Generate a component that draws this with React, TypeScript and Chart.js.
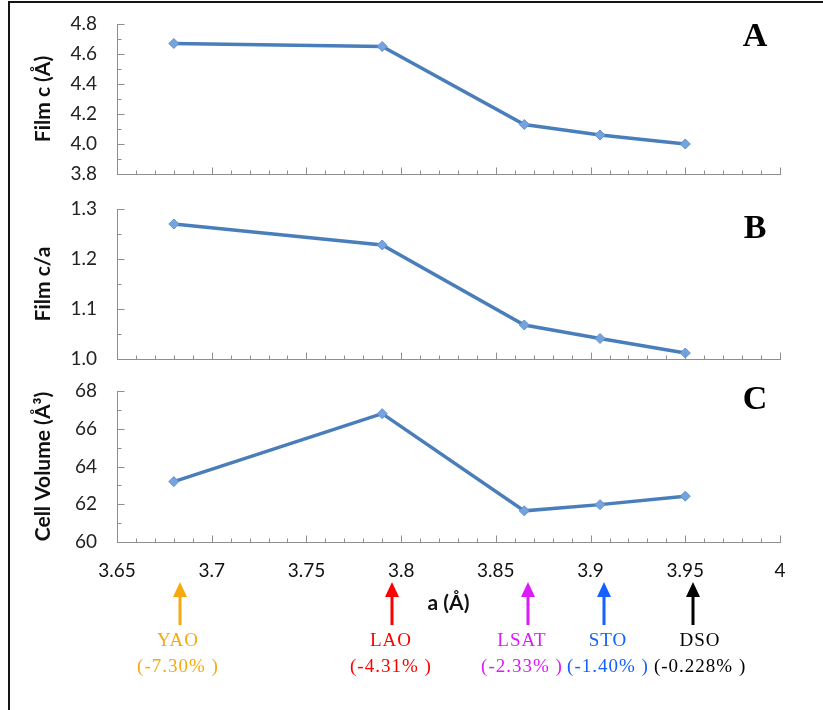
import { useEffect, useRef } from 'react';
import { Chart, registerables } from 'chart.js';

Chart.register(...registerables);

// Film lattice data against the in-plane substrate parameter a (Å)
const latticeA = [3.68, 3.79, 3.865, 3.905, 3.95];
const filmC = [4.67, 4.65, 4.13, 4.06, 4.0];
const filmCOverA = [1.27, 1.228, 1.068, 1.041, 1.012];
const cellVolume = [63.2, 66.8, 61.65, 61.98, 62.43];

// Substrates marked under the shared a axis
const substrates = ['YAO', 'LAO', 'LSAT', 'STO', 'DSO'];
const mismatch = ['(-7.30% )', '(-4.31% )', '(-2.33% )', '(-1.40% )', '(-0.228% )'];
const substrateA = [3.683, 3.795, 3.867, 3.907, 3.954];
const substrateLabelA = [3.6822, 3.7946, 3.8638, 3.9092, 3.9578];
const substrateColors = ['#F5AA10', '#FF0000', '#DC1CF8', '#1660FF', '#000000'];

// Panels
const panelLetters = ['A', 'B', 'C'];
const panelTitles = ['Film c (Å)', 'Film c/a', 'Cell Volume (Å³)'];
const panelSeries = [filmC, filmCOverA, cellVolume];
const yMin = [3.8, 1.0, 60];
const yMax = [4.8, 1.3, 68];
const yStep = [0.2, 0.1, 2];
const yMinorStep = [0.1, 0.05, 1];
const yDecimals = [1, 1, 0];

const xMin = 3.65;
const xMax = 4;
const xStep = 0.05;
const xMinorStep = 0.01;

// Layout of the three stacked canvases
const W = 823;
const canvasTop = [0, 190, 370];
const canvasHeight = [190, 183, 340];
const plotTop = [24, 19, 21];
const xAxisHeight = [16, 14, 168];
const letterY = [37, 39, 30];

const AXIS = '#8e8e8e';
const TICK_MARK = '#8e8e8e';
const LINE = '#4A7EBB';
const TICK_FONT = { family: 'Lato', size: 19 };
const TITLE_FONT = { family: 'Lato', size: 21, weight: 'bold' as const };

function eachStep(min: number, max: number, minor: number, major: number, fn: (v: number, isMajor: boolean) => void) {
  const n = Math.round((max - min) / minor);
  const ratio = Math.round(major / minor);
  for (let i = 0; i <= n; i++) fn(min + i * minor, i % ratio === 0);
}

// Tick marks pointing into the plot, major and minor
const inwardTicks = {
  id: 'inwardTicks',
  afterDatasetsDraw(chart: any, _args: any, opts: any) {
    const { ctx, chartArea } = chart;
    const xs = chart.scales.x;
    const ys = chart.scales.y;
    ctx.save();
    ctx.strokeStyle = TICK_MARK;
    ctx.lineWidth = 1;
    ctx.beginPath();
    const baseY = Math.round(chartArea.bottom) + 0.5;
    eachStep(xMin, xMax, xMinorStep, xStep, (v, major) => {
      const px = Math.round(xs.getPixelForValue(v)) + 0.5;
      ctx.moveTo(px, baseY);
      ctx.lineTo(px, baseY - (major ? 7 : 4));
    });
    const baseX = Math.round(chartArea.left) + 0.5;
    eachStep(opts.min, opts.max, opts.minor, opts.major, (v, major) => {
      const py = Math.round(ys.getPixelForValue(v)) + 0.5;
      ctx.moveTo(baseX, py);
      ctx.lineTo(baseX + (major ? 7 : 4), py);
    });
    ctx.stroke();
    ctx.restore();
  },
};

// Panel letter in the top-right corner
const panelLetter = {
  id: 'panelLetter',
  afterDraw(chart: any, _args: any, opts: any) {
    const { ctx } = chart;
    ctx.save();
    ctx.font = 'bold 34px "Liberation Serif"';
    ctx.fillStyle = '#000';
    ctx.textAlign = 'center';
    ctx.textBaseline = 'middle';
    ctx.fillText(opts.text, 755, opts.y);
    ctx.restore();
  },
};

// Substrate arrows and mismatch labels under the a axis
const substrateMarks = {
  id: 'substrateMarks',
  afterDraw(chart: any, _args: any, opts: any) {
    if (!opts.show) return;
    const { ctx } = chart;
    const xs = chart.scales.x;
    ctx.save();
    substrates.forEach((name, i) => {
      const px = Math.round(xs.getPixelForValue(substrateA[i]));
      const lx = xs.getPixelForValue(substrateLabelA[i]);
      const color = substrateColors[i];
      ctx.fillStyle = color;
      ctx.strokeStyle = color;
      ctx.lineWidth = 3;
      ctx.beginPath();
      ctx.moveTo(px, 255);
      ctx.lineTo(px, 224);
      ctx.stroke();
      ctx.beginPath();
      ctx.moveTo(px, 212);
      ctx.lineTo(px - 7, 227);
      ctx.lineTo(px + 7, 227);
      ctx.closePath();
      ctx.fill();
      ctx.font = '19px "Liberation Serif"';
      (ctx as any).letterSpacing = '1px';
      ctx.textAlign = 'center';
      ctx.textBaseline = 'middle';
      ctx.fillText(name, lx, 271);
      ctx.fillText(mismatch[i], lx, 297);
    });
    ctx.restore();
  },
};

function fmtX(v: number) {
  return String(Number(v.toFixed(2)));
}

function Panel({ index }: { index: number }) {
  const ref = useRef<HTMLCanvasElement | null>(null);
  useEffect(() => {
    if (!ref.current) return;
    const bottomPanel = index === 2;
    const chart = new Chart(ref.current, {
      type: 'line',
      data: {
        datasets: [
          {
            data: latticeA.map((a, i) => ({ x: a, y: panelSeries[index][i] })),
            borderColor: LINE,
            borderWidth: 3.5,
            pointStyle: 'rectRot',
            pointRadius: 5,
            pointBackgroundColor: '#74A3DE',
            pointBorderColor: '#5F90D2',
            pointBorderWidth: 1,
            tension: 0,
          },
        ],
      },
      options: {
        responsive: false,
        animation: false,
        events: [],
        layout: { padding: { left: 0, right: W - 780, top: plotTop[index], bottom: 0 } },
        plugins: {
          legend: { display: false },
          tooltip: { enabled: false },
          inwardTicks: { min: yMin[index], max: yMax[index], minor: yMinorStep[index], major: yStep[index] },
          panelLetter: { text: panelLetters[index], y: letterY[index] },
          substrateMarks: { show: bottomPanel },
        } as any,
        scales: {
          x: {
            type: 'linear',
            min: xMin,
            max: xMax,
            afterFit: (s: any) => {
              s.height = xAxisHeight[index];
            },
            grid: { display: false, drawTicks: true, tickLength: 17 },
            border: { display: true, color: AXIS, width: 1 },
            ticks: {
              display: bottomPanel,
              stepSize: xStep,
              padding: 0,
              color: '#111',
              font: TICK_FONT,
              maxRotation: 0,
              autoSkip: false,
              callback: (v: any) => fmtX(Number(v)),
            },
            title: {
              display: bottomPanel,
              text: 'a (Å)',
              color: '#111',
              font: TITLE_FONT,
              padding: { top: 0, bottom: 94 },
            },
          },
          y: {
            min: yMin[index],
            max: yMax[index],
            afterFit: (s: any) => {
              s.width = 117;
            },
            grid: { display: false, drawTicks: true, tickLength: 20 },
            border: { display: true, color: AXIS, width: 1 },
            ticks: {
              stepSize: yStep[index],
              padding: 0,
              color: '#222',
              font: TICK_FONT,
              callback: (v: any) => Number(v).toFixed(yDecimals[index]),
            },
            title: {
              display: true,
              text: panelTitles[index],
              color: '#111',
              font: TITLE_FONT,
              padding: { top: 31, bottom: 0 },
            },
          },
        },
      },
      plugins: [inwardTicks, panelLetter, substrateMarks],
    });
    return () => chart.destroy();
  }, [index]);
  return (
    <canvas
      ref={ref}
      width={W}
      height={canvasHeight[index]}
      style={{ position: 'absolute', left: 0, top: canvasTop[index], display: 'block' }}
    />
  );
}

export default function App() {
  return (
    <div style={{ position: 'absolute', left: 0, top: 0, width: W, height: 710, background: '#fff', overflow: 'hidden' }}>
      <div
        style={{
          position: 'absolute',
          left: 8,
          top: 1,
          right: 0,
          bottom: 0,
          borderTop: '2px solid #151515',
          borderLeft: '2px solid #151515',
        }}
      />
      {panelLetters.map((_, i) => (
        <Panel key={i} index={i} />
      ))}
    </div>
  );
}
